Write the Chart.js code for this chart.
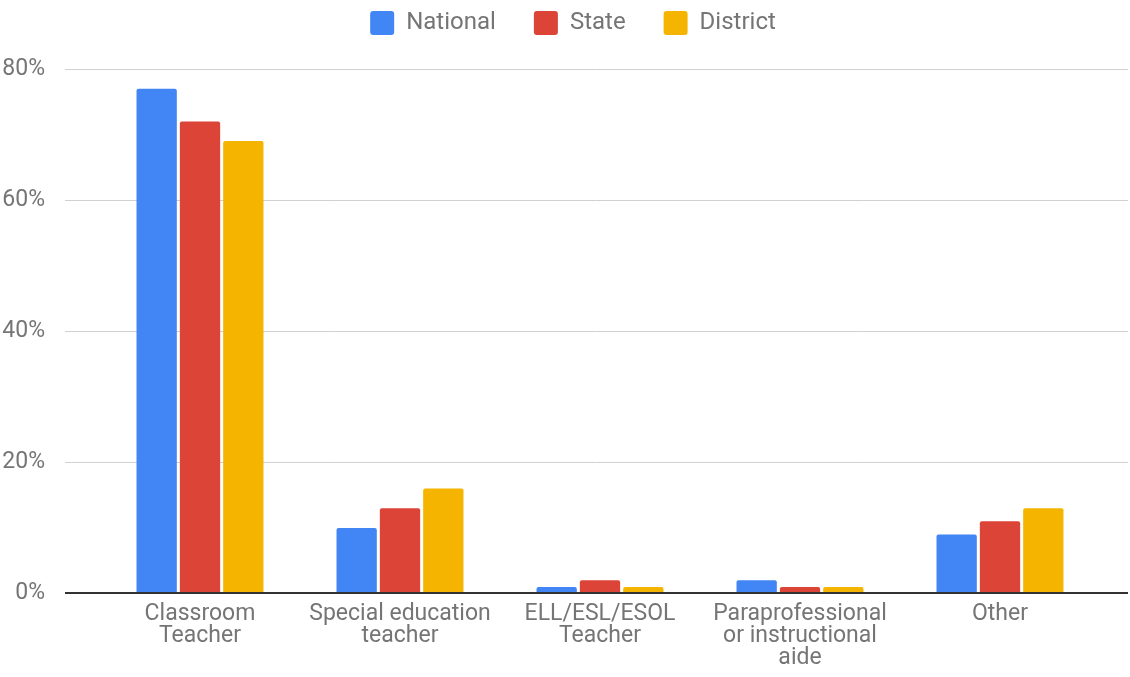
<!DOCTYPE html>
<html>
<head>
<meta charset="utf-8">
<script src="https://cdn.jsdelivr.net/npm/chart.js@4"></script>
<style>
  html, body { margin: 0; padding: 0; background: #fff; }
  #wrap { width: 1130px; height: 677px; }
</style>
</head>
<body>
<div id="wrap"><canvas id="grafico"></canvas></div>
<script>
const categorias = [
  ['Classroom', 'Teacher'],
  ['Special education', 'teacher'],
  ['ELL/ESL/ESOL', 'Teacher'],
  ['Paraprofessional', 'or instructional', 'aide'],
  ['Other']
];
const nacional = [77, 10, 1, 2, 9];
const estadual = [72, 13, 2, 1, 11];
const distrito = [69, 16, 1, 1, 13];
const ticksY = [0, 20, 40, 60, 80];

const corTexto = '#757575';
const fonte = { family: 'Roboto', size: 23, lineHeight: 0.95 };

// gridlines run the full width like the original, past the bar area
const gradeInteira = {
  id: 'gradeInteira',
  beforeLayout(chart) {
    // legend box height, so the plot starts where the original does
    const lg = chart.legend;
    if (lg && !lg._esticada) {
      const fitOrig = lg.fit.bind(lg);
      lg.fit = function () { fitOrig(); this.height -= 3; };
      lg._esticada = true;
    }
  },
  afterLayout(chart) {
    // nudge the legend to where the original has it
    const lg = chart.legend;
    lg.left += 23;
    lg.right += 23;
    lg.top = -27;
  },
  beforeDatasetsDraw(chart) {
    const { ctx, scales: { y } } = chart;
    ctx.save();
    ctx.lineWidth = 1;
    ctx.strokeStyle = '#d0d0d0';
    ticksY.filter(v => v !== 0).forEach(v => {
      const py = Math.round(y.getPixelForValue(v)) + 0.5;
      ctx.beginPath();
      ctx.moveTo(65, py);
      ctx.lineTo(chart.width - 2, py);
      ctx.stroke();
    });
    ctx.restore();
  },
  afterDatasetsDraw(chart) {
    const { ctx, scales: { y } } = chart;
    const py = Math.round(y.getPixelForValue(0));
    ctx.save();
    ctx.lineWidth = 2;
    ctx.strokeStyle = '#333';
    ctx.beginPath();
    ctx.moveTo(65, py);
    ctx.lineTo(chart.width - 2, py);
    ctx.stroke();
    ctx.restore();
  }
};

const ctx = document.getElementById('grafico').getContext('2d');
new Chart(ctx, {
  type: 'bar',
  data: {
    labels: categorias,
    datasets: [
      { label: 'National', data: nacional, backgroundColor: '#4285F4' },
      { label: 'State', data: estadual, backgroundColor: '#DB4437' },
      { label: 'District', data: distrito, backgroundColor: '#F4B400' }
    ]
  },
  options: {
    responsive: true,
    maintainAspectRatio: false,
    animation: false,
    layout: { padding: { top: 0, right: 30, bottom: 6, left: 0 } },
    datasets: {
      bar: { categoryPercentage: 0.65, barPercentage: 0.93, borderRadius: { topLeft: 2, topRight: 2 }, borderSkipped: 'bottom' }
    },
    plugins: {
      legend: {
        position: 'top',
        labels: {
          font: { family: 'Roboto', size: 24 },
          color: corTexto,
          boxWidth: 24,
          boxHeight: 24,
          padding: 38,
          useBorderRadius: true,
          borderRadius: 3
        }
      },
      tooltip: { enabled: false }
    },
    scales: {
      x: {
        grid: { display: false },
        border: { display: false },
        ticks: {
          font: fonte,
          color: corTexto,
          maxRotation: 0,
          autoSkip: false,
          padding: 2
        }
      },
      y: {
        min: 0,
        max: 80,
        afterFit(scale) { scale.width = 100; },
        afterBuildTicks(scale) { scale.ticks = ticksY.map(v => ({ value: v })); },
        grid: { display: false },
        border: { display: false },
        ticks: {
          font: { family: 'Roboto', size: 23 },
          color: corTexto,
          padding: 47,
          callback: v => v + '%'
        }
      }
    }
  },
  plugins: [gradeInteira]
});
</script>
</body>
</html>
